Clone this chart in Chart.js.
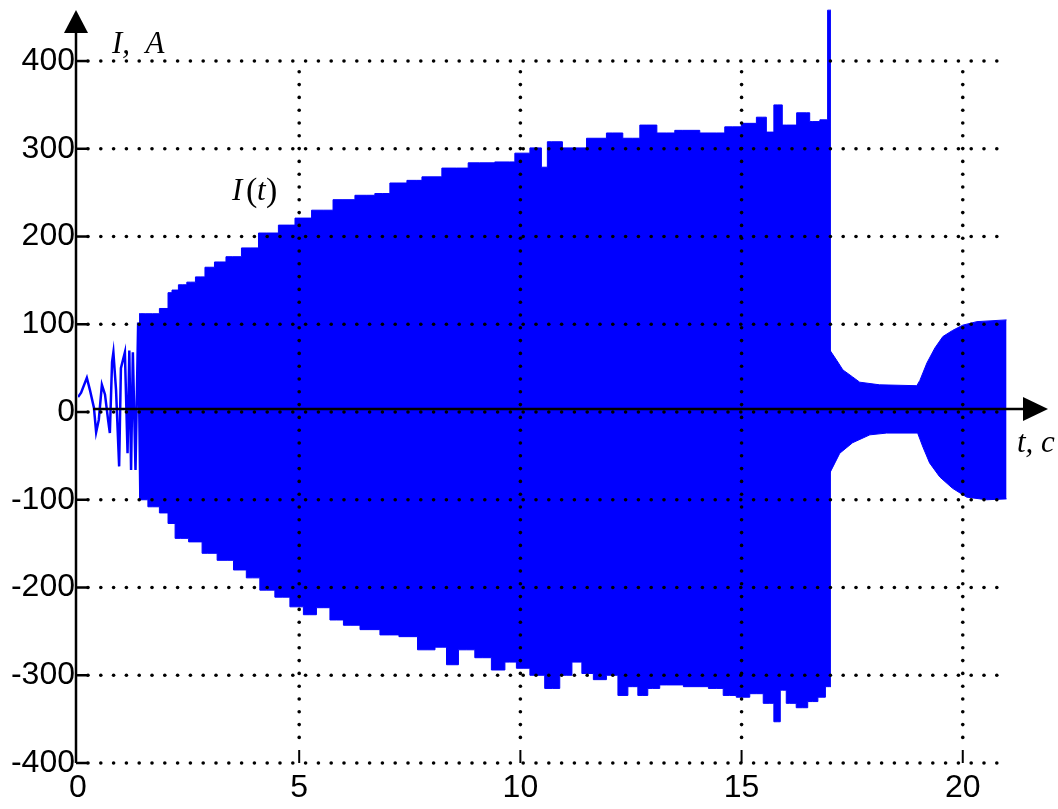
<!DOCTYPE html>
<html>
<head>
<meta charset="utf-8">
<script src="https://cdn.jsdelivr.net/npm/chart.js@4.4.1/dist/chart.umd.min.js"></script>
<style>
  html, body { margin: 0; padding: 0; background: #fff; }
  canvas { display: block; }
</style>
</head>
<body>
<canvas id="myChart" width="1058" height="809"></canvas>
<script>
// начальные колебания (до заполнения)
const tStart = [0, 0.07, 0.20, 0.27, 0.36, 0.41, 0.47, 0.54, 0.61, 0.68, 0.72, 0.77, 0.80, 0.86, 0.93, 0.97, 1.06, 1.12, 1.16, 1.20, 1.24, 1.30, 1.36, 1.41, 1.45];
const iStart = [17, 22, 39, 25, 5, -23, -9, 31, 20, -9, -24, 57, 68, 25, -62, 50, 68, -47, 70, -66, 68, -66, 102, -100, 112];

// верхняя огибающая (до 17 с)
const tUpper = [1.38, 1.69, 1.99, 2.08, 2.17, 2.37, 2.55, 2.76, 2.98, 3.19, 3.50, 3.89, 4.27, 4.79, 5.02, 5.54, 5.99, 6.53, 6.89, 7.21, 7.66, 7.89, 8.56, 9.08, 9.76, 9.99, 10.44, 10.51, 10.71, 11.19, 11.80, 12.09, 12.54, 12.86, 13.31, 13.67, 14.44, 14.80, 15.19, 15.48, 15.64, 15.82, 16.02, 16.47, 16.61, 16.93, 16.96, 17.02];
const iUpper = [112, 112, 118, 136, 139, 145, 148, 154, 165, 171, 177, 187, 204, 213, 221, 230, 242, 247, 249, 261, 264, 268, 278, 284, 285, 295, 301, 279, 308, 301, 312, 318, 312, 327, 318, 321, 318, 325, 329, 336, 319, 350, 327, 341, 331, 333, 458, 458];

// нижняя огибающая (до 17 с)
const tLower = [1.38, 1.47, 1.69, 1.99, 2.08, 2.31, 2.69, 2.92, 3.37, 3.66, 3.95, 4.27, 4.63, 4.95, 5.24, 5.54, 5.85, 6.15, 6.60, 7.05, 7.46, 7.89, 8.25, 8.41, 8.79, 9.15, 9.54, 9.76, 10.06, 10.37, 10.73, 11.05, 11.28, 11.50, 11.80, 12.09, 12.32, 12.54, 12.77, 12.99, 13.31, 14.06, 14.44, 14.73, 15.03, 15.34, 15.64, 15.82, 15.93, 16.09, 16.38, 16.61, 16.84, 16.95, 17.02];
const iLower = [-100, -100, -108, -115, -127, -144, -148, -161, -169, -180, -189, -203, -211, -222, -231, -223, -237, -243, -248, -254, -256, -271, -268, -288, -271, -280, -294, -285, -292, -300, -315, -300, -285, -298, -305, -300, -323, -313, -323, -315, -311, -313, -315, -323, -325, -321, -332, -353, -317, -332, -337, -330, -325, -313, -313];

// огибающие после 17 с
const tUpperTail = [16.99, 17.15, 17.29, 17.51, 17.67, 18.12, 18.96, 19.03, 19.19, 19.37, 19.55, 19.77, 20.00, 20.32, 20.99];
const iUpperTail = [71, 59, 48, 40, 34, 31, 30, 36, 56, 73, 86, 93, 99, 103, 105];
const tLowerTail = [16.99, 17.11, 17.22, 17.51, 17.90, 18.28, 18.98, 19.10, 19.25, 19.48, 19.77, 20.09, 20.54, 20.99];
const iLowerTail = [-70, -58, -47, -35, -26, -24, -24, -40, -58, -74, -87, -97, -100, -99];

const xTicks = [0, 5, 10, 15, 20];
const yTicks = [-400, -300, -200, -100, 0, 100, 200, 300, 400];

function toPoints(xs, ys) {
    const pts = [];
    for (let i = 0; i < xs.length; i++) {
        pts.push({x: xs[i], y: ys[i]});
    }
    return pts;
}

const BLUE = '#0000ff';

function band(xs, ys, stepped) {
    return {
        data: toPoints(xs, ys),
        showLine: true,
        stepped: stepped,
        borderColor: BLUE,
        backgroundColor: BLUE,
        borderWidth: 1,
        pointRadius: 0,
        fill: 'origin'
    };
}

// оси, стрелки, точечная сетка и подписи
const decor = {
    id: 'decor',
    afterDatasetsDraw(chart) {
        const ctx = chart.ctx;
        const xs = chart.scales.x;
        const ys = chart.scales.y;
        const x0 = xs.getPixelForValue(0);
        const xEnd = xs.getPixelForValue(21);
        const yBot = ys.getPixelForValue(-400);
        const yTop = ys.getPixelForValue(400);
        const step = 12.8;

        ctx.save();
        ctx.fillStyle = '#000';
        // горизонтальные точки
        yTicks.forEach(v => {
            const y = ys.getPixelForValue(v);
            for (let x = x0 + 10; x <= xEnd + 1; x += step) {
                ctx.beginPath();
                ctx.arc(x, y, 1.8, 0, Math.PI * 2);
                ctx.fill();
            }
        });
        // вертикальные точки
        xTicks.slice(1).forEach(v => {
            const x = xs.getPixelForValue(v);
            for (let y = yBot - step * 2; y >= yTop + 5; y -= step) {
                ctx.beginPath();
                ctx.arc(x, y, 1.8, 0, Math.PI * 2);
                ctx.fill();
            }
            ctx.lineWidth = 2;
            ctx.strokeStyle = '#000';
            ctx.beginPath();
            ctx.moveTo(x, yBot);
            ctx.lineTo(x, yBot - 13);
            ctx.stroke();
        });

        ctx.strokeStyle = '#000';
        ctx.lineWidth = 2.5;
        // ось Y
        const ax = x0 - 2;
        ctx.beginPath();
        ctx.moveTo(ax, yBot);
        ctx.lineTo(ax, 30);
        ctx.stroke();
        ctx.beginPath();
        ctx.moveTo(ax, 10);
        ctx.lineTo(ax - 12, 33);
        ctx.lineTo(ax + 12, 33);
        ctx.closePath();
        ctx.fill();
        // засечки Y
        yTicks.forEach(v => {
            const y = ys.getPixelForValue(v);
            ctx.beginPath();
            ctx.moveTo(ax, y);
            ctx.lineTo(ax + 12, y);
            ctx.stroke();
        });
        // ось X
        const zy = ys.getPixelForValue(0) - 3;
        ctx.beginPath();
        ctx.moveTo(x0 + 15, zy);
        ctx.lineTo(1028, zy);
        ctx.stroke();
        ctx.beginPath();
        ctx.moveTo(1048, zy);
        ctx.lineTo(1023, zy - 12);
        ctx.lineTo(1023, zy + 12);
        ctx.closePath();
        ctx.fill();

        // подписи
        ctx.textBaseline = 'alphabetic';
        ctx.textAlign = 'left';
        ctx.font = 'italic 31px "Liberation Serif", serif';
        ctx.fillText('I,  A', 112, 53);
        ctx.fillText('t, c', 1017, 452);
        ctx.fillText('I', 232, 200);
        ctx.font = '34px "Liberation Serif", serif';
        ctx.fillText('(', 246, 201);
        ctx.font = 'italic 31px "Liberation Serif", serif';
        ctx.fillText('t', 257, 200);
        ctx.font = '34px "Liberation Serif", serif';
        ctx.fillText(')', 266, 201);
        ctx.restore();
    }
};

const ctx = document.getElementById('myChart').getContext('2d');
const myChart = new Chart(ctx, {
    type: 'scatter',
    data: {
        datasets: [
            band(tUpper, iUpper, 'middle'),
            band(tLower, iLower, 'middle'),
            band(tUpperTail, iUpperTail, false),
            band(tLowerTail, iLowerTail, false),
            {
                data: toPoints(tStart, iStart),
                showLine: true,
                borderColor: BLUE,
                borderWidth: 2.5,
                pointRadius: 0,
                fill: false
            }
        ]
    },
    options: {
        responsive: false,
        animation: false,
        devicePixelRatio: 1,
        layout: { padding: { top: 4, right: 51, left: 0, bottom: 0 } },
        plugins: {
            legend: { display: false },
            tooltip: { enabled: false }
        },
        scales: {
            x: {
                type: 'linear',
                min: 0,
                max: 21,
                afterBuildTicks: (scale) => { scale.ticks = xTicks.map(v => ({value: v})); },
                afterFit: (scale) => {
                    scale.height = 46;
                    scale.paddingLeft = 0; scale.paddingRight = 0;
                },
                grid: { display: false, drawTicks: false },
                border: { display: false },
                ticks: {
                    color: '#000',
                    padding: 6,
                    maxRotation: 0,
                    font: { family: '"Liberation Sans", Arial, sans-serif', size: 32 }
                }
            },
            y: {
                type: 'linear',
                min: -400,
                max: 465,
                afterBuildTicks: (scale) => { scale.ticks = yTicks.map(v => ({value: v})); },
                afterFit: (scale) => {
                    scale.width = 78;
                    scale.paddingTop = 0; scale.paddingBottom = 0;
                },
                grid: { display: false, drawTicks: false },
                border: { display: false },
                ticks: {
                    color: '#000',
                    padding: 3,
                    font: { family: '"Liberation Sans", Arial, sans-serif', size: 32 }
                }
            }
        }
    },
    plugins: [decor]
});
</script>
</body>
</html>
